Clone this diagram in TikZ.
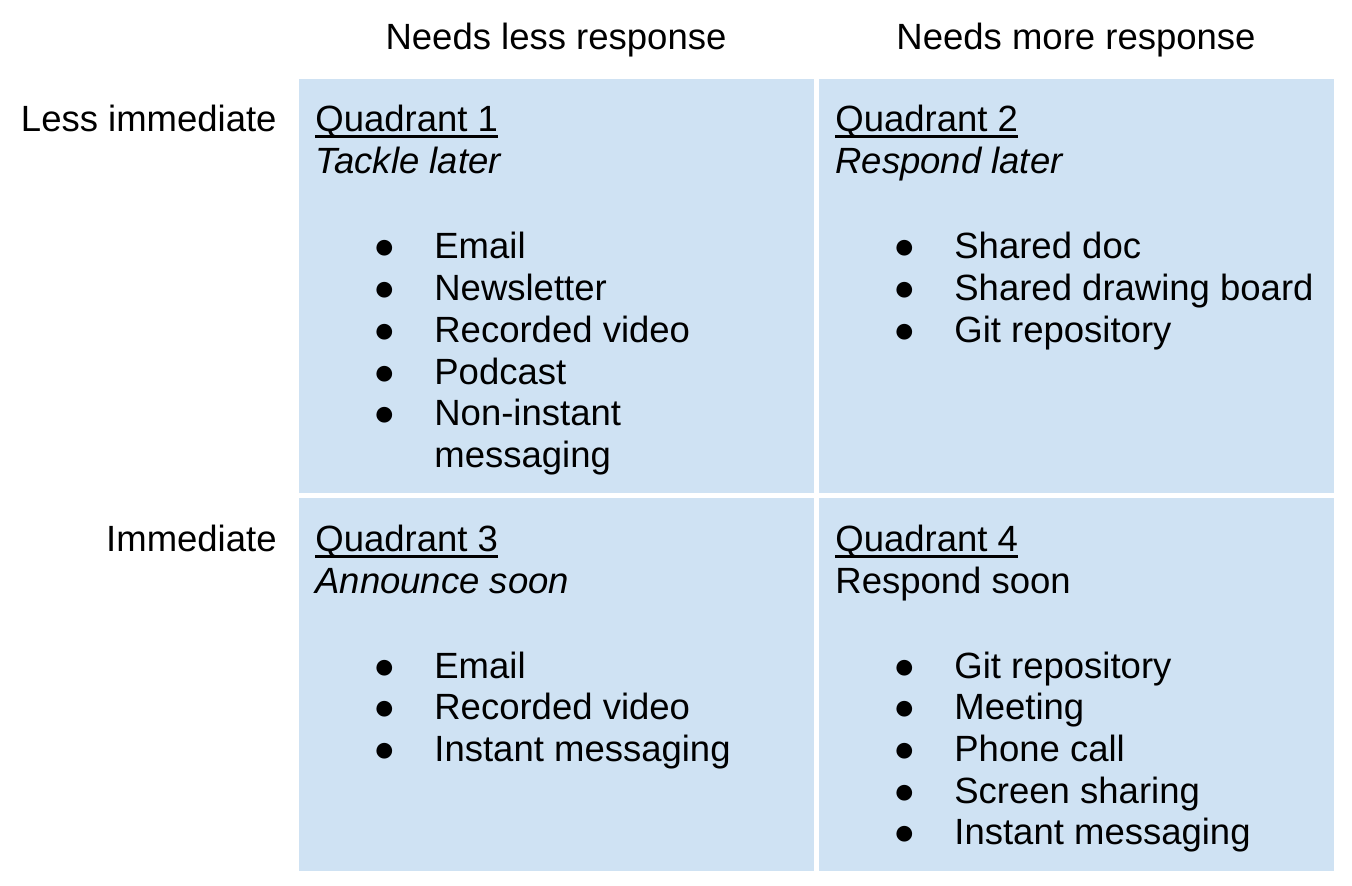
\documentclass[tikz,border=0pt]{standalone}
\usepackage{fontspec}
\setmainfont{Liberation Sans}
\definecolor{cellblue}{RGB}{207,226,243}
\newcommand{\blt}{\makebox[25pt]{●}}
\newlength{\qlw}
\newcommand{\qlabel}[1]{\settowidth{\qlw}{#1}\rlap{#1}\rule[-2.8pt]{\qlw}{1.35pt}}
\tikzset{
  cell/.style={fill=cellblue},
  head/.style={anchor=base, inner sep=0pt},
  rowlab/.style={anchor=base east, inner sep=0pt},
  txt/.style={anchor=base west, inner sep=0pt}
}
\begin{document}
\fontsize{18.25}{20.85}\selectfont
\begin{tikzpicture}[x=0.5pt,y=-0.5pt]
  \useasboundingbox (0,0) rectangle (1352,886);
  \fill[cell] (299,79) rectangle (814,493);
  \fill[cell] (819,79) rectangle (1334,493);
  \fill[cell] (299,498) rectangle (814,871);
  \fill[cell] (819,498) rectangle (1334,871);
  \node[head] (less) at (556,50) {Needs less response};
  \node[head] (more) at (1076,50) {Needs more response};
  \node[rowlab] (lessimm) at (277,132) {Less immediate};
  \node[rowlab] (imm) at (277,552) {Immediate};
  % quadrant 1
  \node[txt] (q1) at (315,132) {\begin{tabular}[t]{@{}l@{}}\qlabel{Quadrant 1}\\\textit{Tackle later}\end{tabular}};
  \node[txt] (q1list) at (359,259) {\begin{tabular}[t]{@{}l@{\hspace{12.5pt}}l@{}}
    \blt & Email\\ \blt & Newsletter\\ \blt & Recorded video\\ \blt & Podcast\\
    \blt & Non-instant\\ & messaging\end{tabular}};
  % quadrant 2
  \node[txt] (q2) at (835,132) {\begin{tabular}[t]{@{}l@{}}\qlabel{Quadrant 2}\\\textit{Respond later}\end{tabular}};
  \node[txt] (q2list) at (879,259) {\begin{tabular}[t]{@{}l@{\hspace{12.5pt}}l@{}}
    \blt & Shared doc\\ \blt & Shared drawing board\\ \blt & Git repository\end{tabular}};
  % quadrant 3
  \node[txt] (q3) at (315,552) {\begin{tabular}[t]{@{}l@{}}\qlabel{Quadrant 3}\\\textit{Announce soon}\end{tabular}};
  \node[txt] (q3list) at (359,678) {\begin{tabular}[t]{@{}l@{\hspace{12.5pt}}l@{}}
    \blt & Email\\ \blt & Recorded video\\ \blt & Instant messaging\end{tabular}};
  % quadrant 4
  \node[txt] (q4) at (835,552) {\begin{tabular}[t]{@{}l@{}}\qlabel{Quadrant 4}\\Respond soon\end{tabular}};
  \node[txt] (q4list) at (879,678) {\begin{tabular}[t]{@{}l@{\hspace{12.5pt}}l@{}}
    \blt & Git repository\\ \blt & Meeting\\ \blt & Phone call\\ \blt & Screen sharing\\
    \blt & Instant messaging\end{tabular}};
\end{tikzpicture}
\end{document}
